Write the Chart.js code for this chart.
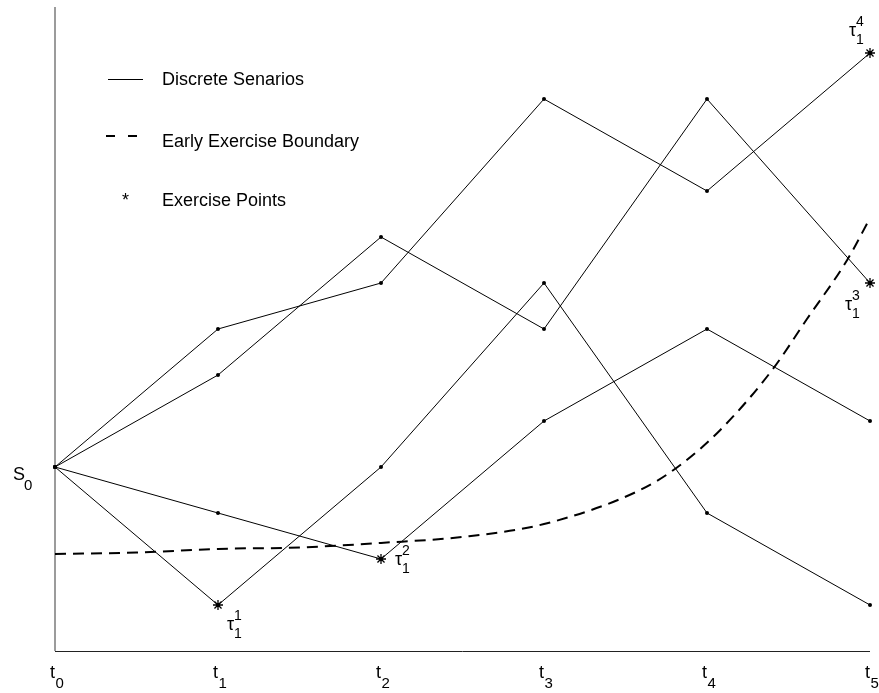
<!DOCTYPE html>
<html>
<head>
<meta charset="utf-8">
<script src="https://cdn.jsdelivr.net/npm/chart.js@4"></script>
<style>
  html, body { margin: 0; padding: 0; background: #ffffff; }
  canvas { display: block; }
</style>
</head>
<body>
<canvas id="c" width="879" height="693"></canvas>
<script>
// ---- data ----
const times = [0, 1, 2, 3, 4, 5];
const timeSubs = ['0', '1', '2', '3', '4', '5'];
const scenarioA = [10, 13, 14, 18, 16, 19];
const scenarioB = [10, 12, 15, 13, 18, 14];
const scenarioC = [10, 7, 10, 14, 9, 7];
const scenarioD = [10, 9, 8, 11, 13, 11];
const boundaryT = [0, 0.5, 1, 1.5, 2, 2.5, 3, 3.59, 3.82, 4.08, 4.40, 4.61, 4.86, 5];
const boundaryV = [8.11, 8.14, 8.22, 8.25, 8.35, 8.48, 8.76, 9.50, 10.0, 10.80, 12.11, 13.20, 14.50, 15.41];
const exerciseT = [1, 2, 5, 5];
const exerciseV = [7, 8, 14, 19];
const exerciseSup = ['1', '2', '3', '4'];
const exerciseSub = ['1', '1', '1', '1'];
const s0Value = 10;
const legendLabels = ['Discrete Senarios', 'Early Exercise Boundary', 'Exercise Points'];

const FONT = '"Liberation Sans", Arial, Helvetica, sans-serif';

function pts(xs, ys) { return xs.map((x, i) => ({ x: x, y: ys[i] })); }

function scenarioDs(vals) {
  return {
    data: pts(times, vals),
    borderColor: '#000',
    borderWidth: 1,
    pointRadius: 2,
    pointBackgroundColor: '#000',
    pointBorderWidth: 0,
    tension: 0,
    clip: false
  };
}

// label offsets (style, in px) relative to exercise points
const tauOffsets = [[9, 25], [14, 6], [-25, 27], [-21, -17]];

const axesPlugin = {
  id: 'axesLines',
  beforeDatasetsDraw(chart) {
    const ctx = chart.ctx;
    const a = chart.chartArea;
    ctx.save();
    ctx.lineWidth = 1.5;
    ctx.strokeStyle = '#7a7a7a';
    ctx.beginPath();
    ctx.moveTo(a.left, a.top);
    ctx.lineTo(a.left, a.bottom);
    ctx.stroke();
    ctx.lineWidth = 1;
    ctx.strokeStyle = '#222';
    ctx.beginPath();
    ctx.moveTo(a.left, a.bottom + 0.5);
    ctx.lineTo(a.right, a.bottom + 0.5);
    ctx.stroke();
    ctx.restore();
  }
};

const textPlugin = {
  id: 'texts',
  afterDraw(chart) {
    const ctx = chart.ctx;
    const xs = chart.scales.x, ys = chart.scales.y;
    ctx.save();
    ctx.fillStyle = '#000';
    ctx.textBaseline = 'alphabetic';
    ctx.textAlign = 'left';
    // time labels
    times.forEach((t, i) => {
      const px = xs.getPixelForValue(t);
      ctx.font = '18px ' + FONT;
      ctx.fillText('t', px - 5, 678);
      const w = ctx.measureText('t').width;
      ctx.font = '15px ' + FONT;
      ctx.fillText(timeSubs[i], px - 5 + w + 0.5, 688);
    });
    // S0 label
    const sy = ys.getPixelForValue(s0Value);
    ctx.font = '18px ' + FONT;
    ctx.fillText('S', 13, sy + 13);
    ctx.font = '15px ' + FONT;
    ctx.fillText('0', 24, sy + 23);
    // tau labels
    exerciseT.forEach((t, i) => {
      const px = xs.getPixelForValue(t) + tauOffsets[i][0];
      const py = ys.getPixelForValue(exerciseV[i]) + tauOffsets[i][1];
      ctx.font = '18px ' + FONT;
      ctx.fillText('\u03C4', px, py);
      const w = ctx.measureText('\u03C4').width;
      ctx.font = '14px ' + FONT;
      ctx.fillText(exerciseSup[i], px + w, py - 10);
      ctx.fillText(exerciseSub[i], px + w, py + 8);
    });
    // legend
    ctx.font = '18px ' + FONT;
    ctx.fillText(legendLabels[0], 162, 85);
    ctx.fillText(legendLabels[1], 162, 147);
    ctx.fillText(legendLabels[2], 162, 206);
    ctx.fillText('*', 122, 206);
    ctx.strokeStyle = '#000';
    ctx.lineWidth = 1;
    ctx.beginPath();
    ctx.moveTo(108, 79.5); ctx.lineTo(143, 79.5);
    ctx.stroke();
    ctx.lineWidth = 2;
    ctx.beginPath();
    ctx.moveTo(106, 136); ctx.lineTo(115, 136);
    ctx.moveTo(128, 136); ctx.lineTo(137, 136);
    ctx.stroke();
    ctx.restore();
  }
};

new Chart(document.getElementById('c'), {
  type: 'line',
  data: {
    datasets: [
      {
        data: pts(exerciseT, exerciseV),
        showLine: false,
        pointStyle: 'star',
        pointRadius: 5,
        borderColor: '#000',
        borderWidth: 1.3,
        backgroundColor: '#000',
        clip: false
      },
      scenarioDs(scenarioA),
      scenarioDs(scenarioB),
      scenarioDs(scenarioC),
      scenarioDs(scenarioD),
      {
        data: pts(boundaryT, boundaryV),
        borderColor: '#000',
        borderWidth: 2,
        borderDash: [11, 7],
        pointRadius: 0,
        cubicInterpolationMode: 'monotone',
        clip: false
      }
    ]
  },
  options: {
    responsive: false,
    animation: false,
    events: [],
    layout: { padding: { left: 55, right: 9, top: 7, bottom: 42 } },
    plugins: { legend: { display: false }, tooltip: { enabled: false }, title: { display: false } },
    scales: {
      x: { type: 'linear', min: 0, max: 5, display: false },
      y: { type: 'linear', min: 6, max: 20, display: false }
    }
  },
  plugins: [axesPlugin, textPlugin]
});
</script>
</body>
</html>
